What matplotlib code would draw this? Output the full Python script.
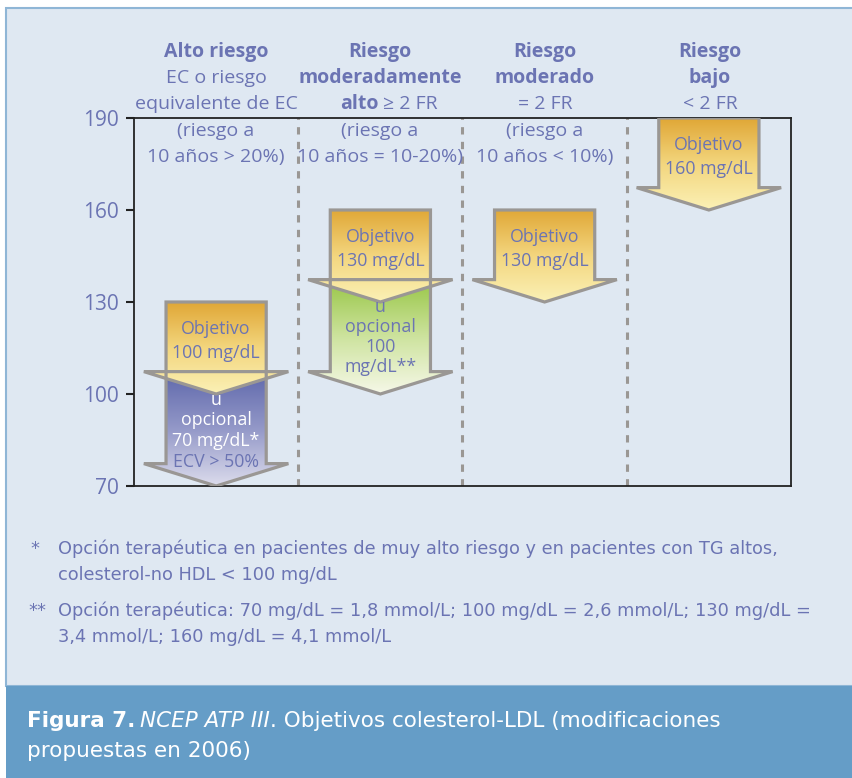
import matplotlib
matplotlib.use("Agg")
import matplotlib.pyplot as plt
import numpy as np
from matplotlib.patches import Polygon, Rectangle
from matplotlib.colors import LinearSegmentedColormap

# values (mg/dL)
risk_titles = [["Alto riesgo"], ["Riesgo", "moderadamente"], ["Riesgo", "moderado"], ["Riesgo", "bajo"]]
risk_notes = [["EC o riesgo", "equivalente de EC", "(riesgo a", "10 años > 20%)"],
              [None, "(riesgo a", "10 años = 10-20%)"],
              ["= 2 FR", "(riesgo a", "10 años < 10%)"],
              ["< 2 FR"]]
arrow_top = [130, 160, 160, 190]
goal = [100, 130, 130, 160]
optional_goal = [70, 100, None, None]
goal_labels = ["Objetivo\n100 mg/dL", "Objetivo\n130 mg/dL", "Objetivo\n130 mg/dL", "Objetivo\n160 mg/dL"]
yticks = [70, 100, 130, 160, 190]

txt = "#6b74b3"
grey = "#9a9794"
orange = LinearSegmentedColormap.from_list("or", ["#e0a736", "#f3d67e", "#fbf1b6"])
blue = LinearSegmentedColormap.from_list("bl", ["#5e67ab", "#9398c8", "#dcdcec"])
green = LinearSegmentedColormap.from_list("gr", ["#98c646", "#cde39e", "#f6f8e8"])

plt.rcParams["font.family"] = ["Open Sans", "DejaVu Sans"]

fig = plt.figure(figsize=(8.53, 7.78), dpi=100)
W, H = 853, 778

# background panel + caption bar
fig.patches.append(Rectangle((0, 0), 1, 1, transform=fig.transFigure, color="white", zorder=-3))
fig.patches.append(Rectangle((6 / W, 92 / H), 1, (770 - 92) / H, transform=fig.transFigure,
                             facecolor="#dfe8f2", edgecolor="#8fb6d6", lw=1.5, zorder=-2))
fig.patches.append(Rectangle((6 / W, 0), 1, 92 / H, transform=fig.transFigure,
                             facecolor="#659dc7", edgecolor="none", zorder=-1))

ax = fig.add_axes([134 / W, 292 / H, 657 / W, 368 / H])
ax.set_facecolor("none")
ax.set_xlim(0, 4)
ax.set_ylim(70, 190)
ax.set_xticks([])
ax.set_yticks(yticks)
ax.tick_params(axis="y", length=6, width=1.5, color="#222222", labelcolor=txt, labelsize=15, pad=5)
for s in ax.spines.values():
    s.set_color("#222222")
    s.set_linewidth(1.3)

for xd in [1, 2, 3]:
    ax.axvline(xd, color=grey, lw=2.2, ls=(0, (2.4, 2.4)), zorder=1)

bw, hw, hh = 0.305, 0.44, 7.3


def arrow(xc, top, tip, cmap):
    base = tip + hh
    pts = [(xc - bw, top), (xc + bw, top), (xc + bw, base), (xc + hw, base),
           (xc, tip), (xc - hw, base), (xc - bw, base)]
    poly = Polygon(pts, closed=True, facecolor="none", edgecolor=grey, lw=2.3, joinstyle="miter", zorder=4)
    ax.add_patch(poly)
    grad = np.linspace(0, 1, 256).reshape(-1, 1)
    im = ax.imshow(grad, cmap=cmap, aspect="auto", extent=(xc - hw, xc + hw, tip, top),
                   origin="upper", zorder=3)
    im.set_clip_path(poly)


for i in range(4):
    xc = i + 0.5
    if optional_goal[i] is not None:
        arrow(xc, goal[i] + hh, optional_goal[i], blue if i == 0 else green)
    arrow(xc, arrow_top[i], goal[i], orange)
    mid = (arrow_top[i] + goal[i] + hh) / 2 - 1.5
    ax.text(xc, mid, goal_labels[i], ha="center", va="center", color=txt, fontsize=12.8,
            linespacing=1.42, zorder=5)

ax.set_ylim(70, 190)

# optional goal labels
ax.text(0.5, 91.5, "u\nopcional\n70 mg/dL*", ha="center", va="center", color="white",
        fontsize=12.8, linespacing=1.18, zorder=5)
ax.text(0.5, 77.8, "ECV > 50%", ha="center", va="center", color=txt, fontsize=12.8, zorder=5)
ax.text(1.5, 118.6, "u\nopcional\n100\nmg/dL**", ha="center", va="center", color=txt,
        fontsize=12.8, linespacing=1.13, zorder=5)

# column headers
col_x = [216, 380, 545, 710]
rows_y = [52, 78, 104, 131, 157]
for i in range(4):
    x = col_x[i] / W
    lines = [(t, "bold") for t in risk_titles[i]]
    if i == 1:
        lines.append((None, None))
    lines += [(t, "normal") for t in risk_notes[i] if t is not None]
    for j, (t, w) in enumerate(lines):
        if t is None:
            continue
        fig.text(x, 1 - rows_y[j] / H, t, ha="center", va="center", color=txt, fontsize=14,
                 fontweight=w)
# "alto ≥ 2 FR" mixed weight
fig.text(379 / W, 1 - 104 / H, "alto", ha="right", va="center", color=txt, fontsize=14, fontweight="bold")
fig.text(383 / W, 1 - 104 / H, "≥ 2 FR", ha="left", va="center", color=txt, fontsize=14)

# footnotes
fn = dict(color=txt, fontsize=12.8, va="center", family=["DejaVu Sans"])
fig.text(30 / W, 1 - 549 / H, "*", **fn)
fig.text(58 / W, 1 - 549 / H, "Opción terapéutica en pacientes de muy alto riesgo y en pacientes con TG altos,", **fn)
fig.text(58 / W, 1 - 575 / H, "colesterol-no HDL < 100 mg/dL", **fn)
fig.text(28 / W, 1 - 611 / H, "**", **fn)
fig.text(58 / W, 1 - 611 / H, "Opción terapéutica: 70 mg/dL = 1,8 mmol/L; 100 mg/dL = 2,6 mmol/L; 130 mg/dL =", **fn)
fig.text(58 / W, 1 - 637 / H, "3,4 mmol/L; 160 mg/dL = 4,1 mmol/L", **fn)

# caption
cap = dict(color="white", fontsize=15.5, va="center", family=["DejaVu Sans"])
t1 = fig.text(27 / W, 1 - 721 / H, "Figura 7.", fontweight="bold", **cap)
fig.canvas.draw()
r = fig.canvas.get_renderer()
bb = t1.get_window_extent(r)
t2 = fig.text((bb.x1 + 5) / W, 1 - 721 / H, "NCEP ATP III", style="italic", **cap)
bb = t2.get_window_extent(r)
fig.text(bb.x1 / W, 1 - 721 / H, ". Objetivos colesterol-LDL (modificaciones", **cap)
fig.text(27 / W, 1 - 751 / H, "propuestas en 2006)", **cap)

fig.savefig("out.png", dpi=100)
